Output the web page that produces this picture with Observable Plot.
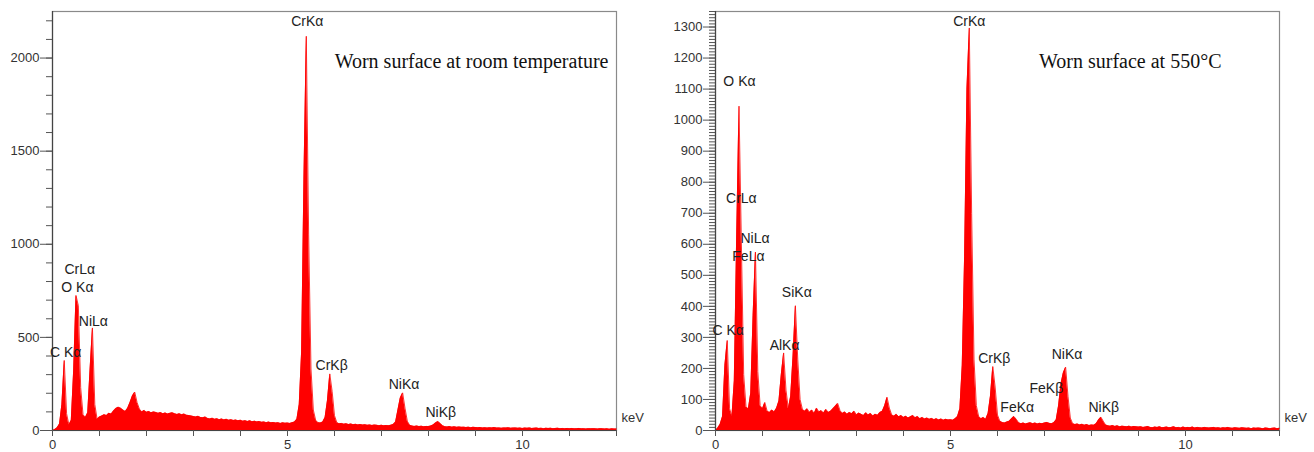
<!DOCTYPE html>
<html><head><meta charset="utf-8">
<script src="https://cdn.jsdelivr.net/npm/d3@7"></script>
<script src="https://cdn.jsdelivr.net/npm/@observablehq/plot@0.6"></script>
<style>
body{margin:0;background:#fff;}
#wrap{display:flex;width:1314px;height:452px;overflow:hidden;}
</style></head><body><div id="wrap"></div>
<script>
// channel width of the spectra (keV per value)
const keVStep = 0.05;

// Worn surface at room temperature: counts per channel, 0 .. 12 keV
const countsRoom = [
0,5,15,35,140,376,90,30,55,320, 725,670,230,85,70,95,330,551,140,60,
72,78,85,80,92,88,105,118,125,120, 110,102,120,150,185,206,150,115,100,108,
98,102,95,100,97,92,96,90,94,88, 92,95,90,86,90,84,88,82,80,78,
75,72,76,70,68,72,65,62,66,60, 63,58,62,57,60,55,58,54,56,52,
55,50,53,48,52,47,50,46,48,44, 46,42,45,41,43,40,42,38,41,39,
40,38,42,45,60,140,420,1350,2117,1050, 330,110,55,42,40,45,70,160,304,210,
80,42,36,38,34,36,32,35,31,33, 30,32,29,31,28,30,27,29,28,26,
28,25,27,26,28,32,45,110,175,202, 120,50,28,24,22,24,21,23,20,22,
21,24,30,40,48,38,26,20,19,21, 18,20,17,19,17,18,16,18,15,17,
16,15,16,14,15,13,15,14,16,13, 14,12,14,13,15,12,13,14,12,13,
11,13,12,14,11,12,13,11,12,10, 12,11,12,10,11,12,10,11,9,11,
10,11,9,10,11,9,10,8,10,9, 10,9,8,10,9,8,9,7,9,8,
8
];

// Worn surface at 550 °C: counts per channel, 0 .. 12 keV
const counts550 = [
0,8,20,45,210,290,70,45,160,620, 1045,610,180,75,70,120,370,575,190,80,
70,90,62,58,66,60,72,95,180,250, 130,70,110,240,402,230,100,68,62,70,
58,66,55,72,60,64,56,68,58,62, 70,78,87,64,55,60,52,58,54,62,
50,56,52,48,57,50,55,47,52,49, 58,62,80,107,72,50,46,52,44,48,
42,46,40,44,48,41,45,38,42,37, 40,36,39,35,38,34,37,33,36,34,
35,33,38,45,70,210,560,1100,1297,700, 230,80,45,38,42,36,55,110,206,140,
50,30,26,24,27,30,38,45,36,25, 22,24,21,23,25,22,24,21,23,22,
24,26,23,22,25,35,80,150,185,204, 110,40,22,19,21,18,20,17,19,16,
18,17,22,34,43,30,18,15,14,16, 13,15,12,14,13,12,14,11,13,12,
11,12,10,11,13,10,9,11,10,12, 9,10,11,9,10,12,9,10,8,11,
9,10,9,11,8,10,9,8,10,9, 8,9,10,8,9,7,9,8,10,8,
7,9,8,7,9,8,7,8,6,8, 7,8,7,6,8,7,6,7,8,6,
7
];

// peak labels (text, keV, counts of the label centre)
const peakNamesRoom = ["CrK\u03b1","CrL\u03b1","O K\u03b1","NiL\u03b1","C K\u03b1","CrK\u03b2","NiK\u03b1","NiK\u03b2"];
const peakKeVRoom   = [5.42, 0.58, 0.53, 0.87, 0.28, 5.94, 7.48, 8.26];
const peakCntRoom   = [2197, 862, 766, 587, 420, 349, 247, 98];

const peakNames550 = ["CrK\u03b1","O K\u03b1","CrL\u03b1","NiL\u03b1","FeL\u03b1","SiK\u03b1","C K\u03b1","AlK\u03b1","CrK\u03b2","NiK\u03b1","FeK\u03b2","FeK\u03b1","NiK\u03b2"];
const peakKeV550   = [5.40, 0.51, 0.55, 0.84, 0.70, 1.73, 0.27, 1.47, 5.93, 7.48, 7.04, 6.42, 8.26];
const peakCnt550   = [1318, 1125, 748, 618, 559, 443, 322, 273, 233, 244, 134, 75, 73];

// axes
const xDomain = [0, 12];
const xTicks = d3.range(0, 13, 1);
const xLabels = [0, 5, 10];
const yDomainRoom = [0, 2250];
const yMajorRoom = [0, 500, 1000, 1500, 2000];
const yMinorRoom = d3.range(0, 2251, 100);
const yDomain550 = [0, 1350];
const yMajor550 = d3.range(0, 1301, 100);
const yMinor550 = d3.range(0, 1351, 10);

const titleRoom = "Worn surface at room temperature";
const title550 = "Worn surface at 550\u00b0C";
const unitLabel = "keV";

const SANS = "'Liberation Sans', Arial, sans-serif";
const SERIF = "'Liberation Serif', 'Times New Roman', serif";

function chart({counts, names, kev, cnt, yDomain, yMajor, yMinor, title, marginLeft, marginRight, titleDx}) {
  const spectrum = counts.map((c, i) => ({e: i * keVStep, c}));
  const peaks = names.map((t, i) => ({t, e: kev[i], c: cnt[i]}));
  return Plot.plot({
    width: 657, height: 452,
    marginLeft, marginRight, marginTop: 11, marginBottom: 22,
    x: {domain: xDomain, label: null},
    y: {domain: yDomain, label: null},
    style: {fontFamily: SANS, fontSize: "13px", color: "#333", background: "white", overflow: "visible"},
    marks: [
      Plot.frame({stroke: "#8a8a8a", strokeWidth: 1.2}),
      Plot.areaY(spectrum, {x: "e", y: "c", fill: "#ff0000", curve: "linear"}),
      Plot.lineY(spectrum, {x: "e", y: "c", stroke: "#ff0000", strokeWidth: 0.8, curve: "linear"}),
      Plot.ruleX([0], {stroke: "#444", strokeWidth: 1.2}),
      Plot.ruleY([0], {stroke: "#444", strokeWidth: 1.2}),
      Plot.axisY(yMinor, {tickSize: 6, tickFormat: () => "", label: null, stroke: "#555"}),
      Plot.axisY(yMajor, {tickSize: 12, tickPadding: 1, tickFormat: d => String(d), label: null, fontSize: 13, fontFamily: SANS, fill: "#333", stroke: "#555"}),
      Plot.axisX(xTicks, {tickSize: 6, tickFormat: d => xLabels.includes(d) ? String(d) : "", label: null, fontSize: 13, fontFamily: SANS, fill: "#333", stroke: "#555"}),
      Plot.text(peaks, {x: "e", y: "c", text: "t", fontSize: 14, fontFamily: SANS, fill: "#222"}),
      Plot.text([title], {text: d => d, frameAnchor: "top-right", dx: titleDx, dy: 42, textAnchor: "end", fontFamily: SERIF, fontSize: 20, fill: "#111"}),
      Plot.text([unitLabel], {text: d => d, frameAnchor: "bottom-right", dx: 5, dy: -9, textAnchor: "start", fontFamily: SANS, fontSize: 13, fill: "#333"})
    ]
  });
}

const wrap = document.getElementById("wrap");
wrap.appendChild(chart({counts: countsRoom, names: peakNamesRoom, kev: peakKeVRoom, cnt: peakCntRoom,
  yDomain: yDomainRoom, yMajor: yMajorRoom, yMinor: yMinorRoom, title: titleRoom,
  marginLeft: 52, marginRight: 41, titleDx: -8}));
wrap.appendChild(chart({counts: counts550, names: peakNames550, kev: peakKeV550, cnt: peakCnt550,
  yDomain: yDomain550, yMajor: yMajor550, yMinor: yMinor550, title: title550,
  marginLeft: 58, marginRight: 35, titleDx: -58}));
</script>
</body></html>
